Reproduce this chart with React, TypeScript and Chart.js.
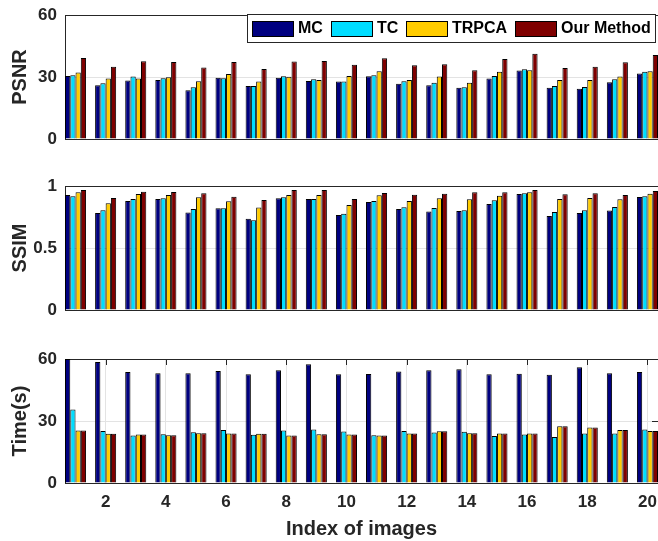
import React, { useEffect, useRef } from 'react';
import { Chart, registerables } from 'chart.js';

Chart.register(...registerables);

const FONT = '"Liberation Sans", Arial, Helvetica, sans-serif';
const TEXT = '#262626';

const categories = [1, 2, 3, 4, 5, 6, 7, 8, 9, 10, 11, 12, 13, 14, 15, 16, 17, 18, 19, 20];
const xTicks = [2, 4, 6, 8, 10, 12, 14, 16, 18, 20];
const seriesNames = ['MC', 'TC', 'TRPCA', 'Our Method'];
const seriesColors = ['#000080', '#00DDFF', '#FFCC00', '#7F0000'];

const psnrMC = [30.5, 26.0, 28.3, 28.6, 23.6, 29.6, 25.6, 29.6, 28.1, 27.8, 30.4, 26.7, 26.0, 24.8, 29.3, 33.1, 24.8, 24.3, 27.5, 31.7];
const psnrTC = [30.9, 27.0, 30.2, 29.4, 25.1, 29.4, 25.6, 30.4, 28.9, 27.8, 30.9, 28.0, 27.2, 25.1, 30.5, 33.8, 25.6, 25.2, 28.9, 32.5];
const psnrTRPCA = [32.2, 29.3, 29.3, 29.9, 28.0, 31.4, 27.8, 30.1, 28.6, 30.5, 32.8, 28.5, 30.2, 27.2, 32.6, 33.3, 28.6, 28.6, 30.2, 32.8];
const psnrOurs = [39.2, 35.0, 37.6, 37.3, 34.6, 37.3, 33.9, 37.5, 37.8, 35.9, 39.1, 35.7, 36.2, 33.3, 38.7, 41.2, 34.4, 34.9, 37.1, 40.7];

const ssimMC = [0.928, 0.783, 0.879, 0.895, 0.786, 0.82, 0.735, 0.901, 0.895, 0.767, 0.871, 0.815, 0.794, 0.799, 0.855, 0.936, 0.759, 0.783, 0.802, 0.912];
const ssimTC = [0.917, 0.804, 0.895, 0.901, 0.815, 0.82, 0.724, 0.909, 0.895, 0.777, 0.879, 0.828, 0.823, 0.804, 0.885, 0.941, 0.791, 0.804, 0.831, 0.917];
const ssimTRPCA = [0.949, 0.861, 0.936, 0.928, 0.909, 0.877, 0.826, 0.928, 0.928, 0.847, 0.925, 0.879, 0.901, 0.893, 0.922, 0.949, 0.895, 0.903, 0.893, 0.938];
const ssimOurs = [0.968, 0.903, 0.954, 0.952, 0.941, 0.914, 0.887, 0.968, 0.968, 0.895, 0.944, 0.93, 0.938, 0.949, 0.949, 0.968, 0.933, 0.941, 0.928, 0.96];

const timeMC = [60, 58.6, 53.7, 53.1, 53.1, 54.2, 52.6, 54.5, 57.4, 52.6, 52.8, 54.0, 54.5, 55.0, 52.6, 52.9, 52.4, 56.0, 53.1, 53.7];
const timeTC = [35.6, 25.2, 23.0, 23.6, 24.6, 25.6, 23.3, 25.4, 25.9, 24.9, 23.1, 25.2, 24.4, 24.8, 22.7, 23.5, 22.3, 23.9, 23.9, 25.9];
const timeTRPCA = [25.4, 23.8, 23.5, 23.1, 24.1, 23.9, 23.8, 23.0, 23.6, 23.5, 23.0, 23.9, 25.1, 24.1, 23.9, 23.9, 27.5, 26.9, 25.6, 25.2];
const timeOurs = [25.4, 23.8, 23.5, 23.1, 24.1, 23.9, 23.8, 23.0, 23.6, 23.5, 23.0, 23.9, 25.1, 24.1, 23.9, 23.9, 27.5, 26.9, 25.6, 25.2];

const psnrTicks = [0, 30, 60];
const ssimTicks = [0, 0.5, 1];
const timeTicks = [0, 30, 60];

const boxLegend = {
  id: 'boxLegend',
  afterDraw(chart: any) {
    const { ctx, chartArea } = chart;
    ctx.save();
    ctx.font = `bold 16px ${FONT}`;
    const sw = 42, sh = 16, gapText = 4, gapItem = 8, padL = 5, padR = 4;
    const items = chart.data.datasets.map((ds: any) => ({
      label: ds.label,
      color: ds.backgroundColor,
      w: ctx.measureText(ds.label).width,
    }));
    let total = padL + padR;
    items.forEach((it: any, i: number) => {
      total += sw + gapText + it.w + (i < items.length - 1 ? gapItem : 0);
    });
    const right = chartArea.right - 3;
    const left = right - total;
    const top = chartArea.top - 1;
    const bottom = top + 28;
    ctx.fillStyle = '#ffffff';
    ctx.fillRect(left, top, right - left, bottom - top);
    ctx.strokeStyle = TEXT;
    ctx.lineWidth = 1;
    ctx.strokeRect(Math.round(left) + 0.5, top + 0.5, Math.round(right - left), bottom - top);
    let x = left + padL;
    ctx.textBaseline = 'middle';
    ctx.textAlign = 'left';
    items.forEach((it: any) => {
      const rx = Math.round(x);
      ctx.fillStyle = it.color;
      ctx.fillRect(rx, top + 7, sw, sh);
      ctx.strokeStyle = '#000000';
      ctx.strokeRect(rx + 0.5, top + 7.5, sw - 1, sh - 1);
      ctx.fillStyle = '#000000';
      ctx.fillText(it.label, rx + sw + gapText, (top + bottom) / 2 + 1);
      x += sw + gapText + it.w + gapItem;
    });
    ctx.restore();
  },
};

const inwardTicks = {
  id: 'inwardTicks',
  beforeDatasetsDraw(chart: any) {
    const { ctx, chartArea, scales } = chart;
    const xs = scales.x;
    const ys = scales.y;
    ctx.save();
    ctx.strokeStyle = TEXT;
    ctx.lineWidth = 1;
    ctx.beginPath();
    xs.ticks.forEach((t: any) => {
      const px = Math.round(xs.getPixelForValue(t.value)) + 0.5;
      ctx.moveTo(px, chartArea.top);
      ctx.lineTo(px, chartArea.top + 6);
    });
    const py = Math.round(ys.getPixelForValue(30)) + 0.5;
    ctx.moveTo(chartArea.right - 6, py);
    ctx.lineTo(chartArea.right, py);
    ctx.stroke();
    ctx.restore();
  },
};

function makeConfig(
  series: number[][],
  yMax: number,
  yTicks: number[],
  yTitle: string,
  showX: boolean,
  plugins: any[],
  padBottom: number
): any {
  return {
    type: 'bar',
    data: {
      datasets: series.map((vals, s) => ({
        label: seriesNames[s],
        data: categories.map((c, i) => ({ x: c, y: vals[i] })),
        backgroundColor: seriesColors[s],
        borderColor: '#000000',
        borderWidth: 1,
        borderSkipped: 'start',
        categoryPercentage: 0.7,
        barPercentage: 1.0,
      })),
    },
    plugins,
    options: {
      responsive: false,
      animation: false,
      devicePixelRatio: 1,
      layout: { padding: { top: 15, bottom: padBottom, left: 0, right: 0 } },
      plugins: { legend: { display: false }, tooltip: { enabled: false }, title: { display: false } },
      scales: {
        x: {
          type: 'linear',
          min: 0.65,
          max: 20.35,
          offset: false,
          display: showX,
          afterBuildTicks: (s: any) => {
            s.ticks = xTicks.map((v) => ({ value: v }));
          },
          afterFit: (s: any) => {
            if (showX) s.height = 58;
            s.paddingLeft = 0;
            s.paddingRight = 0;
          },
          grid: { display: true, offset: false, color: '#e3e3e3', lineWidth: 1, drawTicks: false },
          border: { display: true, color: TEXT, width: 1 },
          ticks: {
            autoSkip: false,
            maxRotation: 0,
            padding: 9,
            color: TEXT,
            font: { family: FONT, size: 17, weight: 'bold' },
            callback: (v: any) => String(v),
          },
          title: {
            display: showX,
            text: 'Index of images',
            color: TEXT,
            padding: { top: 0, bottom: 0 },
            font: { family: FONT, size: 20, weight: 'bold' },
          },
        },
        y: {
          type: 'linear',
          min: 0,
          max: yMax,
          afterBuildTicks: (s: any) => {
            s.ticks = yTicks.map((v) => ({ value: v }));
          },
          afterFit: (s: any) => {
            s.width = 65;
            s.paddingTop = 0;
            s.paddingBottom = 0;
          },
          grid: {
            drawTicks: false,
            lineWidth: 1,
            color: (c: any) => (c.tick && (c.tick.value === 0 || c.tick.value === yMax) ? TEXT : '#e3e3e3'),
          },
          border: { display: true, color: TEXT, width: 1 },
          ticks: {
            padding: 8,
            color: TEXT,
            font: { family: FONT, size: 17, weight: 'bold' },
            callback: (v: any) => String(v),
          },
          title: {
            display: true,
            text: yTitle,
            color: TEXT,
            padding: { top: 8, bottom: 0 },
            font: { family: FONT, size: 20, weight: 'bold' },
          },
        },
      },
    },
  };
}

function Panel({ top, height, config }: { top: number; height: number; config: any }) {
  const ref = useRef<HTMLCanvasElement | null>(null);
  useEffect(() => {
    if (!ref.current) return;
    const chart = new Chart(ref.current, config);
    return () => chart.destroy();
  }, []);
  return (
    <canvas
      ref={ref}
      width={658}
      height={height}
      style={{ position: 'absolute', left: 0, top, width: 658, height }}
    />
  );
}

export default function App() {
  const psnrCfg = makeConfig([psnrMC, psnrTC, psnrTRPCA, psnrOurs], 60, psnrTicks, 'PSNR', false, [boxLegend], 11);
  const ssimCfg = makeConfig([ssimMC, ssimTC, ssimTRPCA, ssimOurs], 1, ssimTicks, 'SSIM', false, [], 11);
  const timeCfg = makeConfig([timeMC, timeTC, timeTRPCA, timeOurs], 60, timeTicks, 'Time(s)', true, [inwardTicks], 0);
  return (
    <div style={{ position: 'absolute', left: 0, top: 0, width: 658, height: 541, background: '#ffffff', overflow: 'hidden' }}>
      <Panel top={0} height={150} config={psnrCfg} />
      <Panel top={171} height={150} config={ssimCfg} />
      <Panel top={344} height={197} config={timeCfg} />
    </div>
  );
}
